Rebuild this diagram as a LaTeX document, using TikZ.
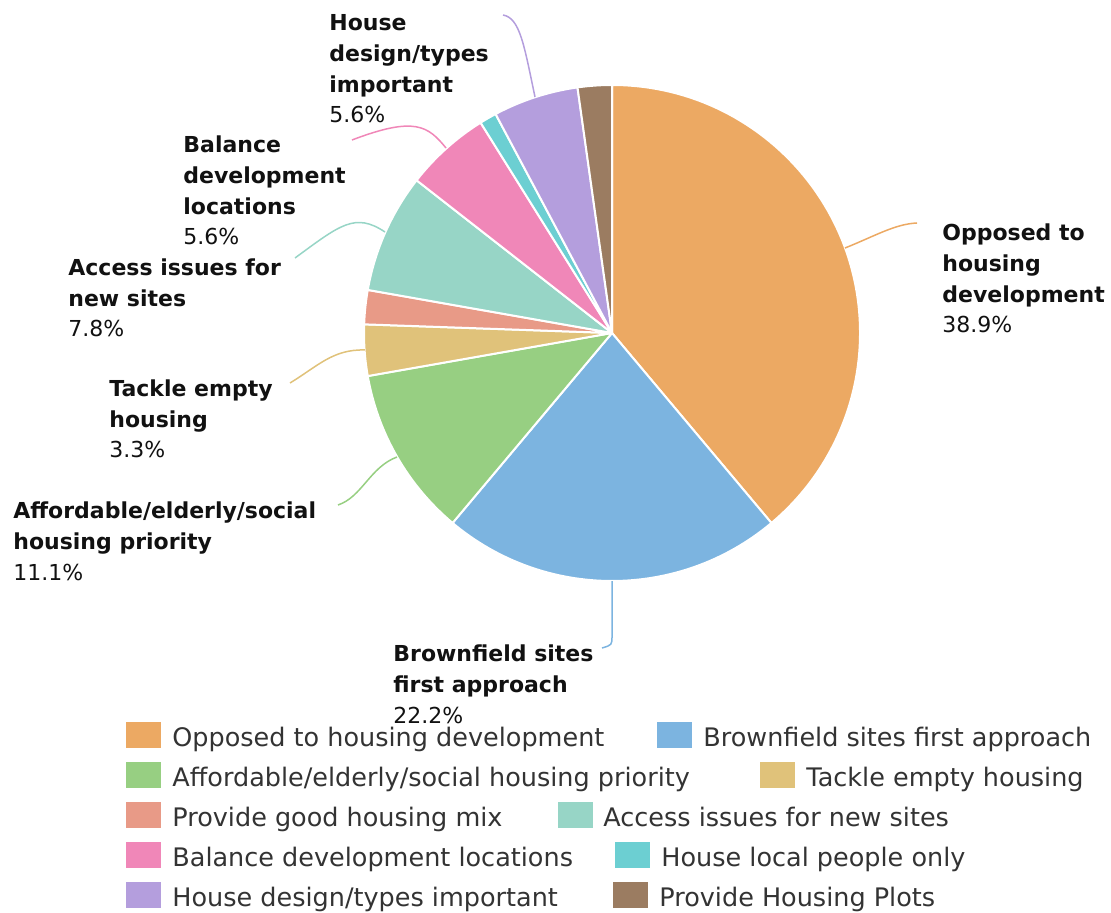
\documentclass[tikz,border=0pt]{standalone}
\usepackage{fontspec}
\setmainfont{DejaVu Sans}
\usepackage{tikz}

\definecolor{orangec}{HTML}{ECA963}
\definecolor{bleu}{HTML}{7CB4E0}
\definecolor{vert}{HTML}{97CF82}
\definecolor{jaune}{HTML}{E0C27A}
\definecolor{saumon}{HTML}{E89A87}
\definecolor{turquoise}{HTML}{97D5C6}
\definecolor{rose}{HTML}{F087B8}
\definecolor{cyanc}{HTML}{6CCFD2}
\definecolor{lavande}{HTML}{B49EDD}
\definecolor{brun}{HTML}{9B7C61}
\definecolor{texte}{HTML}{111111}
\definecolor{textel}{HTML}{333333}

\tikzstyle{tranche} = [draw=white, line width=1pt, line join=round]
\tikzstyle{trait} = [line width=0.75pt]
\tikzstyle{etiquette} = [anchor=base west, inner sep=0pt, align=left, text=texte, font=\fontsize{11pt}{15.4pt}\selectfont]
\tikzstyle{carre} = [rectangle, minimum width=17.5pt, minimum height=13pt, inner sep=0pt]
\tikzstyle{legende} = [anchor=base west, inner sep=0pt, text=textel, font=\fontsize{12.75pt}{15pt}\selectfont]

\begin{document}
\begin{tikzpicture}[x=0.5pt, y=-0.5pt]

        \useasboundingbox (0,0) rectangle (1111,913);

        % the pie
        \coordinate (centre) at (612,333);
        \filldraw[tranche, fill=orangec] (centre) -- ++(90:124pt) arc[start angle=90, end angle=-50, radius=124pt] -- cycle;
        \filldraw[tranche, fill=bleu] (centre) -- ++(-50:124pt) arc[start angle=-50, end angle=-130, radius=124pt] -- cycle;
        \filldraw[tranche, fill=vert] (centre) -- ++(-130:124pt) arc[start angle=-130, end angle=-170, radius=124pt] -- cycle;
        \filldraw[tranche, fill=jaune] (centre) -- ++(-170:124pt) arc[start angle=-170, end angle=-182, radius=124pt] -- cycle;
        \filldraw[tranche, fill=saumon] (centre) -- ++(-182:124pt) arc[start angle=-182, end angle=-190, radius=124pt] -- cycle;
        \filldraw[tranche, fill=turquoise] (centre) -- ++(-190:124pt) arc[start angle=-190, end angle=-218, radius=124pt] -- cycle;
        \filldraw[tranche, fill=rose] (centre) -- ++(-218:124pt) arc[start angle=-218, end angle=-238, radius=124pt] -- cycle;
        \filldraw[tranche, fill=cyanc] (centre) -- ++(-238:124pt) arc[start angle=-238, end angle=-242, radius=124pt] -- cycle;
        \filldraw[tranche, fill=lavande] (centre) -- ++(-242:124pt) arc[start angle=-242, end angle=-262, radius=124pt] -- cycle;
        \filldraw[tranche, fill=brun] (centre) -- ++(-262:124pt) arc[start angle=-262, end angle=-270, radius=124pt] -- cycle;

        % labels (placed at the baseline of their last line)
        \node (opp) [etiquette] at (942,333) {\textbf{Opposed to}\\\textbf{housing}\\\textbf{development}\\38.9\%};
        \node (brownf) [etiquette] at (393,723) {\textbf{Brownfield sites}\\\textbf{first approach}\\22.2\%};
        \node (afford) [etiquette] at (13,580) {\textbf{Affordable/elderly/social}\\\textbf{housing priority}\\11.1\%};
        \node (tackle) [etiquette] at (109,458) {\textbf{Tackle empty}\\\textbf{housing}\\3.3\%};
        \node (access) [etiquette] at (68,337) {\textbf{Access issues for}\\\textbf{new sites}\\7.8\%};
        \node (balance) [etiquette] at (183,245) {\textbf{Balance}\\\textbf{development}\\\textbf{locations}\\5.6\%};
        \node (design) [etiquette] at (329,123) {\textbf{House}\\\textbf{design/types}\\\textbf{important}\\5.6\%};

        % connectors
        \coordinate (p1) at (845,248);
        \coordinate (q1) at (917,223);
        \coordinate (p2) at (612,581);
        \coordinate (q2) at (602,648);
        \coordinate (p3) at (397,457);
        \coordinate (q3) at (338,505);
        \coordinate (p4) at (365,350);
        \coordinate (q4) at (290,383);
        \coordinate (p6) at (385,232);
        \coordinate (q6) at (295,258);
        \coordinate (p7) at (446,148);
        \coordinate (q7) at (352,140);
        \coordinate (p9) at (535,97);
        \coordinate (q9) at (503,15);

        \draw[trait, orangec] (p1) .. controls (875,236) and (895,224) .. (q1);
        \draw[trait, bleu] (p2) -- (612,636) .. controls (612,645) .. (q2);
        \draw[trait, vert] (p3) .. controls (370,467) and (362,497) .. (q3);
        \draw[trait, jaune] (p4) .. controls (333,349) and (318,366) .. (q4);
        \draw[trait, turquoise] (p6) .. controls (355,212) and (340,225) .. (q6);
        \draw[trait, rose] (p7) .. controls (428,126) and (415,116) .. (q7);
        \draw[trait, lavande] (p9) .. controls (524,45) and (520,18) .. (q9);

        % legend
        \node (c1) [carre, fill=orangec] at (143.5,735) {};
        \node (l1) [legende] at (172,746) {Opposed to housing development};
        \node (c2) [carre, fill=bleu] at (674.5,735) {};
        \node (l2) [legende] at (703,746) {Brownfield sites first approach};
        \node (c3) [carre, fill=vert] at (143.5,775) {};
        \node (l3) [legende] at (172,786) {Affordable/elderly/social housing priority};
        \node (c4) [carre, fill=jaune] at (777.5,775) {};
        \node (l4) [legende] at (806,786) {Tackle empty housing};
        \node (c5) [carre, fill=saumon] at (143.5,815) {};
        \node (l5) [legende] at (172,826) {Provide good housing mix};
        \node (c6) [carre, fill=turquoise] at (575,815) {};
        \node (l6) [legende] at (603,826) {Access issues for new sites};
        \node (c7) [carre, fill=rose] at (143.5,855) {};
        \node (l7) [legende] at (172,866) {Balance development locations};
        \node (c8) [carre, fill=cyanc] at (632.5,855) {};
        \node (l8) [legende] at (661,866) {House local people only};
        \node (c9) [carre, fill=lavande] at (143.5,895) {};
        \node (l9) [legende] at (172,906) {House design/types important};
        \node (c10) [carre, fill=brun] at (630.5,895) {};
        \node (l10) [legende] at (659,906) {Provide Housing Plots};

    \end{tikzpicture}
\end{document}
